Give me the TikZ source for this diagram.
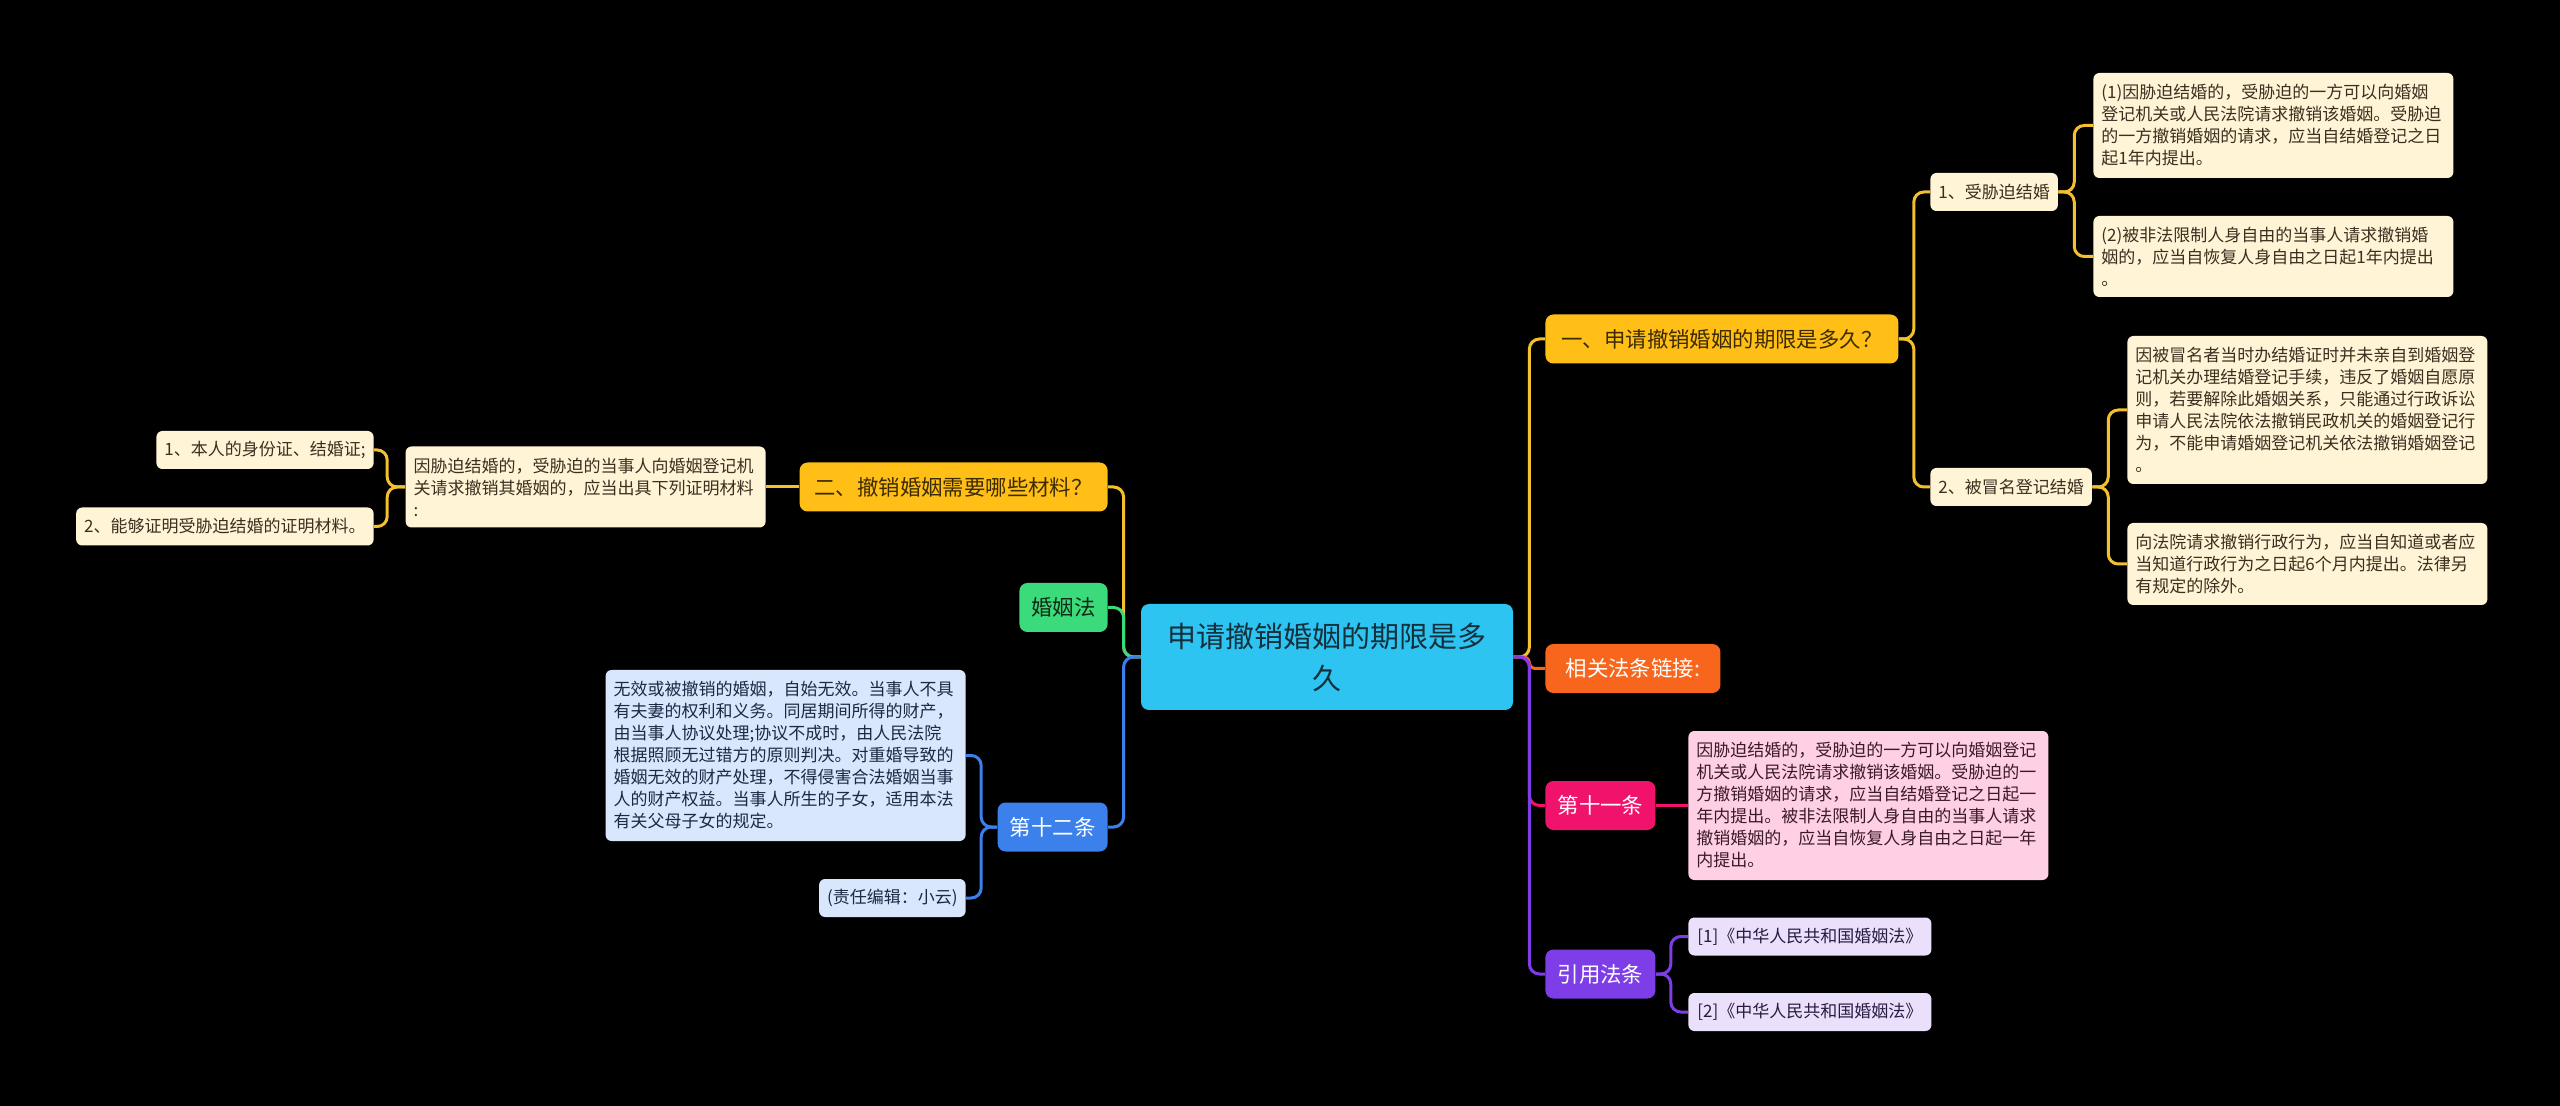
\documentclass[tikz,border=0pt]{standalone}
\usepackage{fontspec}
\setmainfont{Noto Sans CJK SC}
\definecolor{sky}{HTML}{2DC4F2}
\definecolor{skytx}{HTML}{14303C}
\definecolor{amber}{HTML}{FFBF17}
\definecolor{amtx}{HTML}{3D2B00}
\definecolor{amln}{HTML}{F3C02E}
\definecolor{cream}{HTML}{FFF4D5}
\definecolor{crtx}{HTML}{3A3020}
\definecolor{orng}{HTML}{F7661C}
\definecolor{mgnt}{HTML}{F1136B}
\definecolor{pinkbx}{HTML}{FFCFE3}
\definecolor{pktx}{HTML}{3A1A28}
\definecolor{prpl}{HTML}{7D3DE7}
\definecolor{lav}{HTML}{EAE0FB}
\definecolor{lvtx}{HTML}{2A1A40}
\definecolor{grn}{HTML}{3BDB7C}
\definecolor{grtx}{HTML}{0E2A16}
\definecolor{blu}{HTML}{3B80EB}
\definecolor{lblu}{HTML}{D8E7FB}
\definecolor{lbtx}{HTML}{1A2A44}
\begin{document}
\begin{tikzpicture} [
   x=0.5pt, y=-0.5pt,
   ctr/.style={fill=sky, text=skytx, rounded corners=4pt, align=center, minimum width=186pt, minimum height=53pt, font=\fontsize{14.5}{21}\selectfont},
   br/.style={rounded corners=4pt, minimum height=24.5pt, inner xsep=6pt, font=\fontsize{10.7}{13}\selectfont},
   sub/.style={rounded corners=3pt, minimum height=19pt, inner xsep=4pt, font=\fontsize{8.5}{11}\selectfont},
   txt/.style={sub, align=left, text width=172pt, inner ysep=5pt},
   ln/.style={line width=1.5pt, rounded corners=5pt}
]
   \fill[black] (0,0) rectangle (2560,1106);
   \useasboundingbox (0,0) rectangle (2560,1106);

   \node (c) [ctr] at (1327,657) {申请撤销婚姻的期限是多\\久};

   \node (r1) [br, fill=amber, text=amtx, minimum width=176.5pt, anchor=west] at (1545,339) {一、申请撤销婚姻的期限是多久？};
   \node (r1a) [sub, fill=cream, text=crtx, anchor=west] at (1930,192) {1、受胁迫结婚};
   \node (r1a1) [txt, fill=cream, text=crtx, minimum height=52.5pt, anchor=west] at (2093,125.5)
      {(1)因胁迫结婚的，受胁迫的一方可以向婚姻\\登记机关或人民法院请求撤销该婚姻。受胁迫\\的一方撤销婚姻的请求，应当自结婚登记之日\\起1年内提出。};
   \node (r1a2) [txt, fill=cream, text=crtx, minimum height=40.5pt, anchor=west] at (2093,256.5)
      {(2)被非法限制人身自由的当事人请求撤销婚\\姻的，应当自恢复人身自由之日起1年内提出\\。};
   \node (r1b) [sub, fill=cream, text=crtx, anchor=west] at (1930,487) {2、被冒名登记结婚};
   \node (r1b1) [txt, fill=cream, text=crtx, minimum height=74pt, anchor=west] at (2127,410)
      {因被冒名者当时办结婚证时并未亲自到婚姻登\\记机关办理结婚登记手续，违反了婚姻自愿原\\则，若要解除此婚姻关系，只能通过行政诉讼\\申请人民法院依法撤销民政机关的婚姻登记行\\为，不能申请婚姻登记机关依法撤销婚姻登记\\。};
   \node (r1b2) [txt, fill=cream, text=crtx, minimum height=41pt, anchor=west] at (2127,564)
      {向法院请求撤销行政行为，应当自知道或者应\\当知道行政行为之日起6个月内提出。法律另\\有规定的除外。};

   \node (r2) [br, fill=orng, text=white, minimum width=87.5pt, anchor=west] at (1545,668.5) {相关法条链接:};

   \node (r3) [br, fill=mgnt, text=white, minimum width=55pt, anchor=west] at (1545,805.5) {第十一条};
   \node (r3a) [txt, fill=pinkbx, text=pktx, minimum height=74.5pt, anchor=west] at (1688,805.5)
      {因胁迫结婚的，受胁迫的一方可以向婚姻登记\\机关或人民法院请求撤销该婚姻。受胁迫的一\\方撤销婚姻的请求，应当自结婚登记之日起一\\年内提出。被非法限制人身自由的当事人请求\\撤销婚姻的，应当自恢复人身自由之日起一年\\内提出。};

   \node (r4) [br, fill=prpl, text=white, minimum width=55pt, anchor=west] at (1545,974) {引用法条};
   \node (r4a) [sub, fill=lav, text=lvtx, minimum width=121.5pt, anchor=west] at (1688,936.5) {[1]《中华人民共和国婚姻法》};
   \node (r4b) [sub, fill=lav, text=lvtx, minimum width=121.5pt, anchor=west] at (1688,1012) {[2]《中华人民共和国婚姻法》};

   \node (l1) [br, fill=amber, text=amtx, minimum width=154pt, anchor=east] at (1108,487) {二、撤销婚姻需要哪些材料？};
   \node (l1a) [txt, fill=cream, text=crtx, minimum height=40.5pt, anchor=east] at (766,487)
      {因胁迫结婚的，受胁迫的当事人向婚姻登记机\\关请求撤销其婚姻的，应当出具下列证明材料\\:};
   \node (l1a1) [sub, fill=cream, text=crtx, anchor=east] at (374,450) {1、本人的身份证、结婚证;};
   \node (l1a2) [sub, fill=cream, text=crtx, anchor=east] at (374,526.5) {2、能够证明受胁迫结婚的证明材料。};

   \node (l2) [br, fill=grn, text=grtx, minimum width=44pt, anchor=east] at (1108,607.5) {婚姻法};

   \node (l3) [br, fill=blu, text=white, minimum width=55pt, anchor=east] at (1108,827) {第十二条};
   \node (l3a) [txt, fill=lblu, text=lbtx, minimum height=85.5pt, anchor=east] at (966,755.5)
      {无效或被撤销的婚姻，自始无效。当事人不具\\有夫妻的权利和义务。同居期间所得的财产，\\由当事人协议处理;协议不成时，由人民法院\\根据照顾无过错方的原则判决。对重婚导致的\\婚姻无效的财产处理，不得侵害合法婚姻当事\\人的财产权益。当事人所生的子女，适用本法\\有关父母子女的规定。};
   \node (l3b) [sub, fill=lblu, text=lbtx, anchor=east] at (966,898) {(责任编辑：小云)};

   \draw[ln, amln] (c.east) -- ++(16,0) |- (r1.west);
   \draw[ln, orng, rounded corners=3pt] (c.east) -- ++(16,0) |- (r2.west);
   \draw[ln, mgnt] (c.east) -- ++(16,0) |- (r3.west);
   \draw[ln, prpl] (c.east) -- ++(16,0) |- (r4.west);
   \draw[ln, amln] (r1.east) -- ++(15,0) |- (r1a.west);
   \draw[ln, amln] (r1.east) -- ++(15,0) |- (r1b.west);
   \draw[ln, amln] (r1a.east) -- ++(16,0) |- (r1a1.west);
   \draw[ln, amln] (r1a.east) -- ++(16,0) |- (r1a2.west);
   \draw[ln, amln] (r1b.east) -- ++(16,0) |- (r1b1.west);
   \draw[ln, amln] (r1b.east) -- ++(16,0) |- (r1b2.west);
   \draw[ln, mgnt] (r3.east) -- (r3a.west);
   \draw[ln, prpl] (r4.east) -- ++(15,0) |- (r4a.west);
   \draw[ln, prpl] (r4.east) -- ++(15,0) |- (r4b.west);

   \draw[ln, amln] (c.west) -- ++(-17,0) |- (l1.east);
   \draw[ln, grn] (c.west) -- ++(-17,0) |- (l2.east);
   \draw[ln, blu] (c.west) -- ++(-17,0) |- (l3.east);
   \draw[ln, amln] (l1.west) -- (l1a.east);
   \draw[ln, amln] (l1a.west) -- ++(-18,0) |- (l1a1.east);
   \draw[ln, amln] (l1a.west) -- ++(-18,0) |- (l1a2.east);
   \draw[ln, blu] (l3.west) -- ++(-16,0) |- (l3a.east);
   \draw[ln, blu] (l3.west) -- ++(-16,0) |- (l3b.east);
\end{tikzpicture}
\end{document}
